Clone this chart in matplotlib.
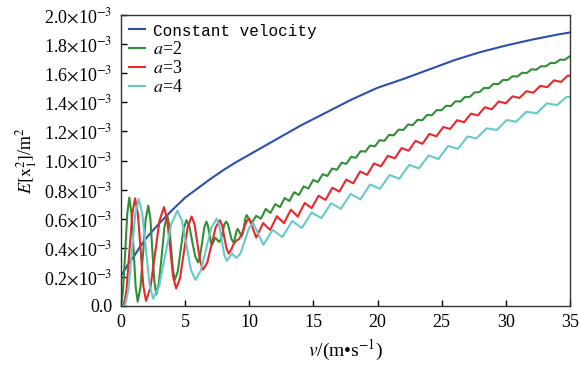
import numpy as np
import matplotlib.pyplot as plt
from matplotlib.font_manager import FontProperties

plt.rcParams['font.family'] = ['Liberation Serif', 'DejaVu Serif']
plt.rcParams['mathtext.fontset'] = 'stix'

# values in units of 1e-3 m^2
v_const = [0.1, 0.5, 1, 1.5, 2, 3, 4, 5, 6, 7, 8, 9, 10, 12, 14, 16, 18, 20,
           22, 24, 26, 28, 30, 32, 34, 35]
E_const = [0.22, 0.28, 0.34, 0.41, 0.47, 0.57, 0.66, 0.745, 0.81, 0.875, 0.935,
           0.99, 1.04, 1.14, 1.24, 1.33, 1.42, 1.50, 1.56, 1.625, 1.69, 1.745,
           1.79, 1.83, 1.865, 1.88]

# a=2 : big oscillations, then ripple
v_a2_low = [0.0, 0.16, 0.33, 0.49, 0.65, 0.81, 0.98, 1.14, 1.3, 1.51, 1.72,
            1.92, 2.13, 2.29, 2.44, 2.6, 2.75, 2.96, 3.18, 3.39, 3.6, 3.75, 3.9,
            4.05, 4.2, 4.43, 4.65, 4.88, 5.1, 5.33, 5.55, 5.78, 6.0, 6.16, 6.33,
            6.49, 6.65, 6.76, 6.88, 6.99, 7.1, 7.35, 7.65, 7.79, 7.93, 8.06,
            8.2, 8.34, 8.48, 8.61, 8.75, 8.84, 8.93, 9.01, 9.1, 9.25, 9.4, 9.5,
            9.6, 9.7]
E_a2_low = [0.0, 0.109, 0.373, 0.636, 0.745, 0.641, 0.388, 0.134, 0.03, 0.126,
            0.36, 0.594, 0.69, 0.601, 0.385, 0.169, 0.08, 0.16, 0.353, 0.545,
            0.625, 0.56, 0.403, 0.245, 0.18, 0.24, 0.385, 0.53, 0.59, 0.548,
            0.445, 0.342, 0.30, 0.341, 0.44, 0.539, 0.58, 0.557, 0.5, 0.443,
            0.42, 0.47, 0.44, 0.46, 0.51, 0.56, 0.58, 0.56, 0.51, 0.46, 0.44,
            0.453, 0.485, 0.517, 0.53, 0.505, 0.48, 0.501, 0.553, 0.604]
v_a2_high = [9.8, 10.17, 10.54, 10.91, 11.28, 11.65, 12.02, 12.39, 12.76, 13.13,
             13.5, 13.87, 14.24, 14.61, 14.98, 15.35, 15.72, 16.09, 16.46, 16.83,
             17.2, 17.57, 17.94, 18.31, 18.68, 19.05, 19.42, 19.79, 20.16, 20.53,
             20.9, 21.27, 21.64, 22.01, 22.38, 22.75, 23.12, 23.49, 23.86, 24.23,
             24.6, 24.97, 25.34, 25.71, 26.08, 26.45, 26.82, 27.19, 27.56, 27.93,
             28.3, 28.67, 29.04, 29.41, 29.78, 30.15, 30.52, 30.89, 31.26, 31.63,
             32.0, 32.37, 32.74, 33.11, 33.48, 33.85, 34.22, 34.59, 34.96]
E_a2_high = [0.625, 0.568, 0.62, 0.60, 0.667, 0.64, 0.70, 0.68, 0.742, 0.722,
             0.782, 0.763, 0.822, 0.807, 0.866, 0.852, 0.906, 0.894, 0.945, 0.936,
             0.985, 0.977, 1.025, 1.019, 1.064, 1.061, 1.103, 1.097, 1.14, 1.135,
             1.176, 1.173, 1.212, 1.21, 1.247, 1.244, 1.28, 1.277, 1.313, 1.311,
             1.346, 1.345, 1.376, 1.374, 1.407, 1.405, 1.437, 1.437, 1.468, 1.469,
             1.499, 1.497, 1.527, 1.525, 1.554, 1.553, 1.579, 1.577, 1.603, 1.601,
             1.627, 1.624, 1.648, 1.647, 1.67, 1.67, 1.693, 1.692, 1.715]

# a=3
v_a3_low = [0.0, 0.2, 0.43, 0.65, 0.88, 1.1, 1.31, 1.53, 1.74, 1.95, 2.3, 2.65,
            3.0, 3.35, 3.59, 3.83, 4.06, 4.3, 4.6, 4.9, 5.2, 5.5, 5.73, 5.95,
            6.18, 6.4, 6.73, 7.05, 7.38, 7.7, 7.88, 8.05, 8.23, 8.4, 8.6, 8.8,
            9.0, 9.2, 9.4, 9.6, 9.8]
E_a3_low = [0.0, 0.0, 0.108, 0.37, 0.632, 0.74, 0.637, 0.388, 0.138, 0.035,
            0.129, 0.358, 0.586, 0.68, 0.598, 0.40, 0.202, 0.12, 0.192, 0.368,
            0.543, 0.615, 0.562, 0.433, 0.303, 0.25, 0.30, 0.42, 0.54, 0.59,
            0.556, 0.475, 0.394, 0.36, 0.39, 0.43, 0.45, 0.46, 0.49, 0.54, 0.585]
v_a3_high = [10.0, 10.54, 11.08, 11.62, 12.16, 12.7, 13.24, 13.78, 14.32, 14.86,
             15.4, 15.94, 16.48, 17.02, 17.56, 18.1, 18.64, 19.18, 19.72, 20.26,
             20.8, 21.34, 21.88, 22.42, 22.96, 23.5, 24.04, 24.58, 25.12, 25.66,
             26.2, 26.74, 27.28, 27.82, 28.36, 28.9, 29.44, 29.98, 30.52, 31.06,
             31.6, 32.14, 32.68, 33.22, 33.76, 34.3, 34.84, 35.0]
E_a3_high = [0.60, 0.47, 0.57, 0.523, 0.617, 0.569, 0.662, 0.615, 0.708, 0.673,
             0.758, 0.729, 0.813, 0.786, 0.869, 0.843, 0.925, 0.901, 0.98, 0.96,
             1.032, 1.015, 1.086, 1.067, 1.135, 1.115, 1.183, 1.166, 1.23, 1.217,
             1.277, 1.263, 1.322, 1.31, 1.366, 1.352, 1.406, 1.393, 1.441, 1.43,
             1.476, 1.466, 1.513, 1.504, 1.551, 1.54, 1.584, 1.582]

# a=4
v_a4_low = [0.0, 0.3, 0.57, 0.84, 1.11, 1.38, 1.66, 1.94, 2.22, 2.5, 2.98, 3.45,
            3.93, 4.4, 4.75, 5.1, 5.45, 5.8, 6.21, 6.63, 7.04, 7.45, 7.65, 7.85,
            8.05, 8.25, 8.45, 8.65, 9.0, 9.33, 9.65, 9.98]
E_a4_low = [0.0, 0.0, 0.107, 0.368, 0.628, 0.735, 0.635, 0.393, 0.15, 0.05,
            0.138, 0.353, 0.567, 0.655, 0.586, 0.418, 0.249, 0.18, 0.241, 0.39,
            0.539, 0.60, 0.558, 0.455, 0.352, 0.31, 0.335, 0.36, 0.33, 0.365,
            0.45, 0.535]
v_a4_high = [10.3, 11.1, 11.82, 12.58, 13.34, 14.1, 14.86, 15.62, 16.38, 17.14,
             17.9, 18.66, 19.42, 20.18, 20.94, 21.7, 22.46, 23.22, 23.98, 24.74,
             25.5, 26.26, 27.02, 27.7, 28.5, 29.3, 30.06, 30.8, 31.6, 32.4, 33.2,
             34.0, 34.74, 35.0]
E_a4_high = [0.57, 0.42, 0.524, 0.473, 0.584, 0.536, 0.643, 0.604, 0.706, 0.668,
             0.771, 0.733, 0.835, 0.805, 0.90, 0.875, 0.97, 0.945, 1.035, 1.01,
             1.10, 1.08, 1.165, 1.152, 1.221, 1.21, 1.278, 1.267, 1.335, 1.324,
             1.393, 1.381, 1.438, 1.435]

x_ticks = [0, 5, 10, 15, 20, 25, 30, 35]
y_ticks = [0, 0.2, 0.4, 0.6, 0.8, 1.0, 1.2, 1.4, 1.6, 1.8, 2.0]
y_labels = ['0.0'] + [r'%.1f$\times$10$^{-3}$' % t for t in y_ticks[1:]]

fig = plt.figure(figsize=(5.79, 3.66), dpi=100)
ax = fig.add_axes([121 / 579, 1 - 306 / 366, 449 / 579, 291 / 366])

ax.plot(v_const, E_const, color='#2c50ae', lw=1.5, label='Constant velocity')
ax.plot(v_a2_low + v_a2_high, E_a2_low + E_a2_high, color='#2f8f35', lw=1.5,
        label='$a$=2')
ax.plot(v_a3_low + v_a3_high, E_a3_low + E_a3_high, color='#e8282c', lw=1.5,
        label='$a$=3')
ax.plot(v_a4_low + v_a4_high, E_a4_low + E_a4_high, color='#66c9cb', lw=1.5,
        label='$a$=4')

ax.set_xlim(0, 35)
ax.set_ylim(0, 2.0)
ax.set_xticks(x_ticks)
ax.set_yticks(y_ticks)
ax.set_yticklabels(y_labels)
ax.tick_params(direction='in', length=4, width=1, labelsize=13, pad=6,
               top=False, right=False)
for s in ax.spines.values():
    s.set_linewidth(1.0)
    s.set_color('#333333')

ax.set_xlabel(r'$v$/(m•s$^{-1}$)', fontsize=14, labelpad=5)
ax.set_ylabel(r'$E[\mathrm{x}_1^2]$/m$^2$', fontsize=13, labelpad=4)

leg = ax.legend(loc='upper left', frameon=False, fontsize=13, handlelength=0.9,
                handletextpad=0.4, labelspacing=0.12, borderaxespad=0.2,
                borderpad=0.25)
leg.get_texts()[0].set_fontproperties(FontProperties(family='Liberation Mono',
                                                     size=11.5))

fig.savefig('out.png', dpi=100)
